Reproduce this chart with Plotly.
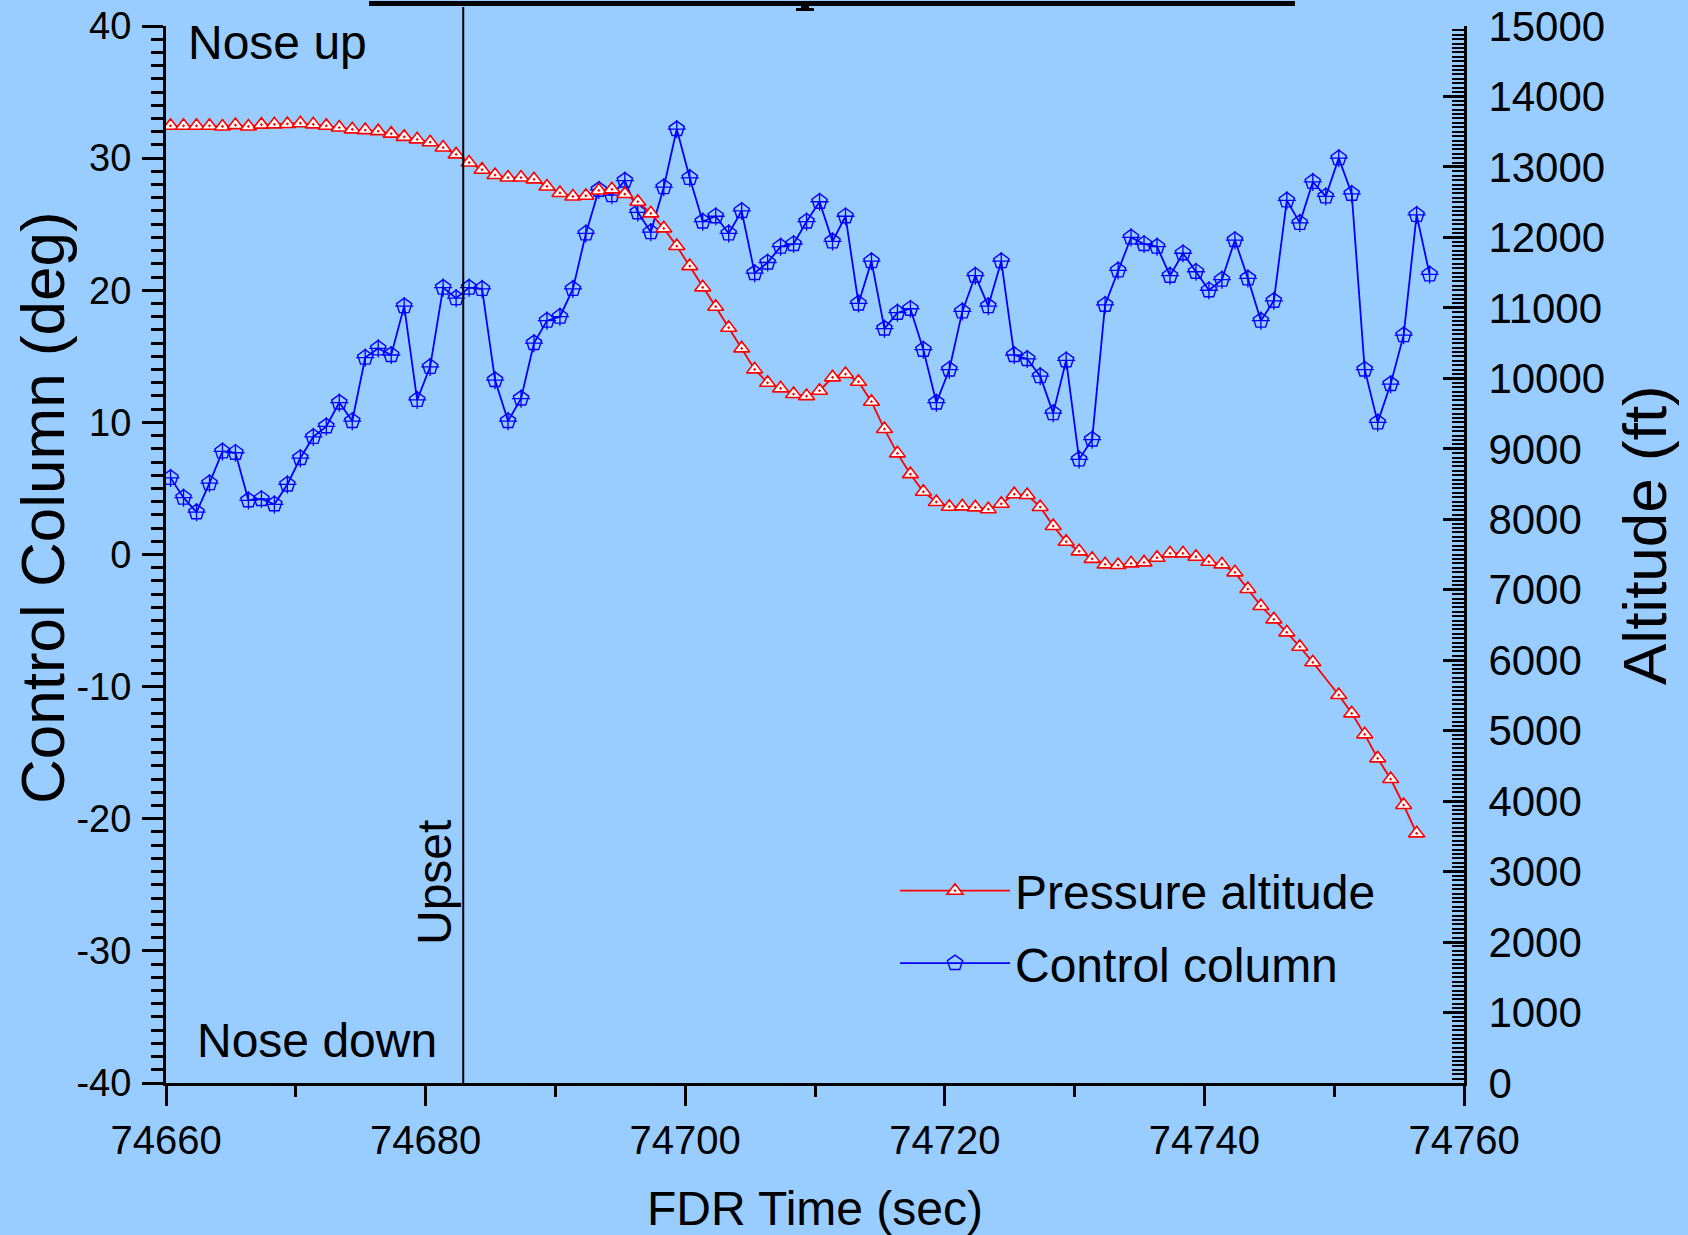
import plotly.graph_objects as go

# ---------------- data ----------------
TIME = [74660.35, 74661.35, 74662.35, 74663.35, 74664.35, 74665.35, 74666.35, 74667.35, 74668.35, 74669.35,
        74670.35, 74671.35, 74672.35, 74673.35, 74674.35, 74675.35, 74676.35, 74677.35, 74678.35, 74679.35,
        74680.35, 74681.35, 74682.35, 74683.35, 74684.35, 74685.35, 74686.35, 74687.35, 74688.35, 74689.35,
        74690.35, 74691.35, 74692.35, 74693.35, 74694.35, 74695.35, 74696.35, 74697.35, 74698.35, 74699.35,
        74700.35, 74701.35, 74702.35, 74703.35, 74704.35, 74705.35, 74706.35, 74707.35, 74708.35, 74709.35,
        74710.35, 74711.35, 74712.35, 74713.35, 74714.35, 74715.35, 74716.35, 74717.35, 74718.35, 74719.35,
        74720.35, 74721.35, 74722.35, 74723.35, 74724.35, 74725.35, 74726.35, 74727.35, 74728.35, 74729.35,
        74730.35, 74731.35, 74732.35, 74733.35, 74734.35, 74735.35, 74736.35, 74737.35, 74738.35, 74739.35,
        74740.35, 74741.35, 74742.35, 74743.35, 74744.35, 74745.35, 74746.35, 74747.35, 74748.35, 74749.35,
        74750.35, 74751.35, 74752.35, 74753.35, 74754.35, 74755.35, 74756.35, 74757.35]

CONTROL_COLUMN = [5.8, 4.3, 3.2, 5.4, 7.8, 7.7, 4.1, 4.2, 3.8, 5.3,
                  7.3, 8.9, 9.7, 11.5, 10.1, 14.9, 15.6, 15.1, 18.8, 11.7,
                  14.2, 20.2, 19.4, 20.2, 20.1, 13.2, 10.1, 11.8, 16.0, 17.7,
                  18.0, 20.1, 24.3, 27.6, 27.2, 28.3, 25.9, 24.4, 27.8, 32.2,
                  28.5, 25.2, 25.6, 24.3, 26.0, 21.3, 22.1, 23.3, 23.5, 25.2,
                  26.7, 23.7, 25.6, 19.0, 22.2, 17.1, 18.3, 18.6, 15.5, 11.5,
                  14.0, 18.4, 21.1, 18.8, 22.2, 15.1, 14.8, 13.5, 10.7, 14.7,
                  7.2, 8.7, 18.9, 21.5, 24.0, 23.5, 23.3, 21.1, 22.8, 21.4,
                  20.0, 20.8, 23.8, 20.9, 17.7, 19.2, 26.8, 25.1, 28.2, 27.1,
                  30.0, 27.3, 14.0, 10.0, 12.9, 16.6, 25.7, 21.2]

PRESSURE_ALTITUDE = [13584, 13584, 13584, 13584, 13574, 13594, 13574, 13600, 13604, 13610,
                     13620, 13604, 13584, 13559, 13533, 13523, 13508, 13472, 13427, 13391,
                     13351, 13275, 13178, 13062, 12961, 12885, 12849, 12849, 12824, 12723,
                     12631, 12581, 12591, 12666, 12682, 12615, 12506, 12341, 12128, 11877,
                     11593, 11291, 11016, 10718, 10425, 10127, 9937, 9858, 9777, 9748,
                     9824, 10014, 10061, 9952, 9668, 9280, 8935, 8640, 8390, 8245,
                     8178, 8183, 8169, 8143, 8220, 8356, 8344, 8175, 7904, 7681,
                     7545, 7438, 7360, 7350, 7374, 7388, 7454, 7516, 7516, 7468,
                     7397, 7360, 7247, 7010, 6769, 6580, 6395, 6191, 5970, None,
                     5506, 5246, 4948, 4607, 4314, 3945, 3543]

UPSET_TIME = 74682.9
X_RANGE = [74660, 74760]
CC_RANGE = [-40, 40]
ALT_RANGE = [0, 15000]

X_TICKS = [74660, 74680, 74700, 74720, 74740, 74760]
X_TICK_LABELS = ["74660", "74680", "74700", "74720", "74740", "74760"]
CC_TICKS = [-40, -30, -20, -10, 0, 10, 20, 30, 40]
CC_TICK_LABELS = ["-40", "-30", "-20", "-10", "0", "10", "20", "30", "40"]
ALT_TICKS = [0, 1000, 2000, 3000, 4000, 5000, 6000, 7000, 8000, 9000, 10000,
             11000, 12000, 13000, 14000, 15000]
ALT_TICK_LABELS = ["0", "1000", "2000", "3000", "4000", "5000", "6000", "7000", "8000",
                   "9000", "10000", "11000", "12000", "13000", "14000", "15000"]

BG = "#99CCFF"
FONT = "Arial, Liberation Sans, sans-serif"

fig = go.Figure()

fig.add_trace(go.Scatter(
    x=TIME[:len(PRESSURE_ALTITUDE)], y=PRESSURE_ALTITUDE, yaxis="y2",
    mode="lines+markers", name="Pressure altitude", connectgaps=True,
    line=dict(color="#FF0000", width=1.8),
    marker=dict(symbol="triangle-up-dot", size=14, color="white",
                line=dict(color="#FF0000", width=1.6)),
    legendgroup="a",
))
fig.add_trace(go.Scatter(
    x=TIME, y=CONTROL_COLUMN, yaxis="y",
    mode="lines+markers", name="Control column",
    line=dict(color="#0000FF", width=1.8),
    marker=dict(symbol="pentagon-open", size=16,
                line=dict(color="#0000FF", width=1.4), color="#0000FF"),
    legendgroup="b",
))
fig.add_trace(go.Scatter(
    x=TIME, y=CONTROL_COLUMN, yaxis="y", mode="markers", showlegend=False,
    marker=dict(symbol="cross-thin-open", size=13,
                line=dict(color="#0000FF", width=1.3), color="#0000FF"),
    hoverinfo="skip",
))

L, R, T, B = 166, 224, 26, 152
W, H = 1688, 1235
pw, ph = W - L - R, H - T - B


def px_x(x):
    return (x - L) / pw


def px_y(y):
    return (H - B - y) / ph


axis_common = dict(showgrid=False, zeroline=False, showline=True, linecolor="black",
                   linewidth=3, tickcolor="black", tickwidth=3, automargin=False)

fig.update_layout(
    template="none",
    width=W, height=H,
    paper_bgcolor=BG, plot_bgcolor=BG,
    margin=dict(l=L, r=R, t=T, b=B, pad=0),
    font=dict(family=FONT, color="black"),
    showlegend=True,
    xaxis=dict(range=X_RANGE, tickmode="array", tickvals=X_TICKS, ticktext=X_TICK_LABELS,
               ticks="outside", ticklen=20,
               minor=dict(dtick=10, ticks="outside", ticklen=11, tickwidth=3, tickcolor="black"),
               ticklabelstandoff=0, tickfont=dict(family=FONT, size=40, color="black"),
               **axis_common),
    yaxis=dict(range=CC_RANGE, tickmode="array", tickvals=CC_TICKS, ticktext=CC_TICK_LABELS,
               ticks="outside", ticklen=21,
               minor=dict(dtick=1, ticks="outside", ticklen=12, tickwidth=3, tickcolor="black"),
               ticklabelstandoff=3, tickfont=dict(family=FONT, size=38, color="black"),
               **axis_common),
    yaxis2=dict(range=ALT_RANGE, tickmode="array", tickvals=ALT_TICKS, ticktext=ALT_TICK_LABELS,
                overlaying="y", side="right", ticks="inside", ticklen=21,
                minor=dict(dtick=62.5, ticks="inside", ticklen=12, tickwidth=2, tickcolor="black"),
                ticklabelstandoff=13, tickfont=dict(family=FONT, size=42, color="black"),
                **axis_common),
    legend=dict(x=px_x(895), y=px_y(853), xanchor="left", yanchor="top",
                bgcolor="rgba(0,0,0,0)", borderwidth=0,
                font=dict(family=FONT, size=48, color="black"),
                itemwidth=110, traceorder="grouped", tracegroupgap=7),
)

shapes = [
    # Upset vertical line
    dict(type="line", xref="x", yref="paper", x0=UPSET_TIME, x1=UPSET_TIME,
         y0=0, y1=px_y(7), line=dict(color="black", width=2)),
    # clipped title underline fragment at the top
    dict(type="line", xref="paper", yref="paper", x0=px_x(369), x1=px_x(1295),
         y0=px_y(3.5), y1=px_y(3.5), line=dict(color="black", width=5)),
    dict(type="rect", xref="paper", yref="paper", x0=px_x(801), x1=px_x(809),
         y0=px_y(9), y1=px_y(5), line=dict(width=0), fillcolor="black"),
    dict(type="rect", xref="paper", yref="paper", x0=px_x(796), x1=px_x(814),
         y0=px_y(11), y1=px_y(8), line=dict(width=0), fillcolor="black"),
]
fig.update_layout(shapes=shapes)

ann = [
    dict(text="Nose up", x=px_x(186), y=px_y(42), xanchor="left", yanchor="middle",
         font=dict(size=48)),
    dict(text="Nose down", x=px_x(195), y=px_y(1040), xanchor="left", yanchor="middle",
         font=dict(size=48)),
    dict(text="Upset", x=px_x(434), y=px_y(883), xanchor="center", yanchor="middle",
         textangle=-90, font=dict(size=48)),
    dict(text="Control Column (deg)", x=px_x(42), y=px_y(508), xanchor="center", yanchor="middle",
         textangle=-90, font=dict(size=62)),
    dict(text="Altitude (ft)", x=px_x(1644), y=px_y(535), xanchor="center", yanchor="middle",
         textangle=-90, font=dict(size=62)),
    dict(text="FDR Time (sec)", x=px_x(815), y=px_y(1208), xanchor="center", yanchor="middle",
         font=dict(size=48)),
]
for a in ann:
    a.update(xref="paper", yref="paper", showarrow=False)
    a["font"].update(family=FONT, color="black")
fig.update_layout(annotations=ann)

fig.write_html("out.html")
